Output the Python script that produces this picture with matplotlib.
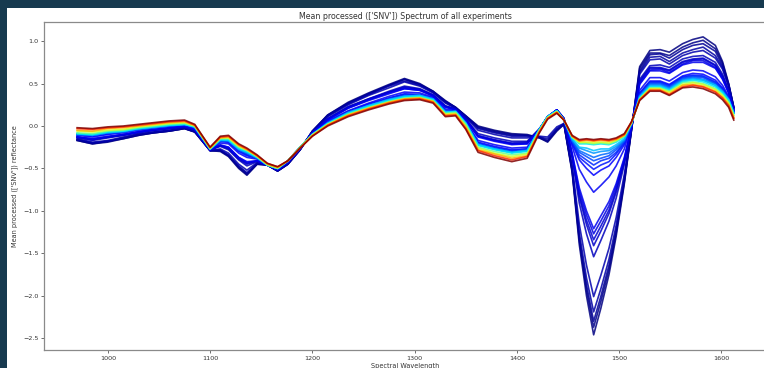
import matplotlib
matplotlib.use("Agg")
import matplotlib.pyplot as plt
from matplotlib.patches import Rectangle

# Sampling wavelengths (nm) shared by every mean spectrum
wavelength_nm = [970, 985, 1000, 1015, 1030, 1045, 1060, 1075, 1085, 1100,
                 1110, 1118, 1128, 1136, 1146, 1156, 1166, 1176, 1188, 1200,
                 1215, 1235, 1255, 1275, 1290, 1305, 1318, 1330, 1340, 1350,
                 1362, 1378, 1395, 1410, 1422, 1430, 1439, 1446, 1454, 1461,
                 1468, 1475, 1482, 1490, 1497, 1505, 1512, 1520, 1530, 1540,
                 1549, 1562, 1572, 1582, 1594, 1601, 1607, 1612]

# Mean SNV-processed reflectance per experiment (label = hours)
snv_h00 = [-0.17, -0.21, -0.19, -0.15, -0.11, -0.08, -0.06, -0.03, -0.07, -0.29,
           -0.30, -0.36, -0.50, -0.58, -0.45, -0.46, -0.53, -0.45, -0.28, -0.06,
           0.13, 0.28, 0.39, 0.49, 0.56, 0.50, 0.41, 0.30, 0.22, 0.12,
           0.00, -0.05, -0.09, -0.10, -0.14, -0.19, -0.06, 0.02, -0.55, -1.40,
           -2.00, -2.46, -2.15, -1.75, -1.30, -0.68, -0.05, 0.70, 0.89, 0.90,
           0.87, 0.97, 1.02, 1.05, 0.95, 0.76, 0.50, 0.22]
snv_h01 = [-0.17, -0.21, -0.18, -0.15, -0.11, -0.08, -0.06, -0.03, -0.07, -0.29,
           -0.29, -0.35, -0.49, -0.57, -0.45, -0.46, -0.53, -0.45, -0.28, -0.06,
           0.13, 0.27, 0.38, 0.48, 0.55, 0.49, 0.41, 0.29, 0.22, 0.12,
           -0.01, -0.06, -0.10, -0.11, -0.14, -0.18, -0.05, 0.02, -0.53, -1.35,
           -1.93, -2.37, -2.07, -1.69, -1.26, -0.66, -0.05, 0.68, 0.86, 0.86,
           0.83, 0.93, 0.98, 1.01, 0.91, 0.74, 0.49, 0.22]
snv_h02 = [-0.16, -0.20, -0.18, -0.14, -0.10, -0.08, -0.06, -0.03, -0.07, -0.29,
           -0.29, -0.35, -0.48, -0.56, -0.44, -0.46, -0.53, -0.45, -0.28, -0.06,
           0.12, 0.27, 0.38, 0.48, 0.55, 0.49, 0.40, 0.29, 0.22, 0.11,
           -0.02, -0.07, -0.11, -0.11, -0.13, -0.17, -0.04, 0.02, -0.52, -1.32,
           -1.87, -2.30, -2.01, -1.64, -1.22, -0.64, -0.04, 0.65, 0.84, 0.85,
           0.80, 0.90, 0.95, 0.97, 0.88, 0.71, 0.49, 0.22]
snv_h03 = [-0.16, -0.20, -0.18, -0.14, -0.10, -0.07, -0.05, -0.02, -0.06, -0.29,
           -0.28, -0.34, -0.47, -0.55, -0.44, -0.46, -0.53, -0.45, -0.28, -0.07,
           0.12, 0.26, 0.37, 0.47, 0.53, 0.48, 0.40, 0.28, 0.21, 0.11,
           -0.03, -0.08, -0.12, -0.12, -0.13, -0.15, -0.03, 0.03, -0.50, -1.26,
           -1.79, -2.19, -1.92, -1.57, -1.17, -0.61, -0.04, 0.63, 0.81, 0.82,
           0.76, 0.86, 0.90, 0.93, 0.83, 0.69, 0.48, 0.21]
snv_h04 = [-0.15, -0.19, -0.17, -0.13, -0.09, -0.07, -0.05, -0.02, -0.06, -0.29,
           -0.27, -0.32, -0.45, -0.52, -0.43, -0.46, -0.52, -0.44, -0.27, -0.07,
           0.11, 0.25, 0.36, 0.45, 0.52, 0.47, 0.39, 0.27, 0.21, 0.10,
           -0.05, -0.10, -0.14, -0.14, -0.12, -0.13, -0.01, 0.03, -0.47, -1.16,
           -1.64, -2.01, -1.76, -1.44, -1.08, -0.57, -0.03, 0.61, 0.78, 0.79,
           0.73, 0.83, 0.87, 0.89, 0.80, 0.67, 0.46, 0.21]
snv_h05 = [-0.14, -0.17, -0.14, -0.11, -0.08, -0.05, -0.03, -0.01, -0.05, -0.28,
           -0.24, -0.28, -0.40, -0.47, -0.42, -0.46, -0.52, -0.43, -0.27, -0.08,
           0.09, 0.23, 0.32, 0.41, 0.47, 0.44, 0.37, 0.24, 0.20, 0.08,
           -0.09, -0.14, -0.18, -0.18, -0.03, 0.10, 0.19, 0.09, -0.38, -0.91,
           -1.27, -1.54, -1.35, -1.12, -0.85, -0.45, -0.02, 0.55, 0.71, 0.72,
           0.69, 0.79, 0.82, 0.83, 0.75, 0.61, 0.42, 0.19]
snv_h06 = [-0.13, -0.16, -0.13, -0.11, -0.07, -0.05, -0.03, -0.01, -0.04, -0.28,
           -0.23, -0.27, -0.39, -0.45, -0.41, -0.46, -0.52, -0.43, -0.27, -0.08,
           0.08, 0.22, 0.32, 0.40, 0.46, 0.43, 0.36, 0.23, 0.20, 0.08,
           -0.11, -0.16, -0.20, -0.19, -0.04, 0.11, 0.19, 0.09, -0.36, -0.84,
           -1.16, -1.41, -1.24, -1.03, -0.78, -0.42, -0.01, 0.53, 0.69, 0.69,
           0.66, 0.76, 0.79, 0.80, 0.72, 0.59, 0.41, 0.19]
snv_h07 = [-0.13, -0.16, -0.13, -0.10, -0.07, -0.05, -0.03, -0.01, -0.04, -0.28,
           -0.23, -0.26, -0.38, -0.44, -0.41, -0.46, -0.52, -0.43, -0.27, -0.08,
           0.08, 0.22, 0.31, 0.40, 0.45, 0.43, 0.36, 0.23, 0.20, 0.08,
           -0.12, -0.17, -0.21, -0.20, -0.04, 0.11, 0.19, 0.09, -0.35, -0.81,
           -1.11, -1.34, -1.18, -0.99, -0.75, -0.41, -0.01, 0.52, 0.68, 0.68,
           0.65, 0.75, 0.78, 0.79, 0.71, 0.58, 0.40, 0.19]
snv_h08 = [-0.13, -0.15, -0.13, -0.10, -0.07, -0.04, -0.02, 0.00, -0.04, -0.28,
           -0.23, -0.25, -0.37, -0.43, -0.41, -0.46, -0.51, -0.43, -0.26, -0.08,
           0.08, 0.21, 0.31, 0.39, 0.44, 0.42, 0.36, 0.23, 0.19, 0.07,
           -0.12, -0.17, -0.21, -0.21, -0.04, 0.11, 0.19, 0.08, -0.33, -0.77,
           -1.05, -1.27, -1.12, -0.94, -0.71, -0.39, -0.01, 0.50, 0.66, 0.67,
           0.63, 0.73, 0.77, 0.77, 0.69, 0.56, 0.39, 0.18]
snv_h09 = [-0.13, -0.15, -0.12, -0.10, -0.07, -0.04, -0.02, 0.00, -0.04, -0.28,
           -0.22, -0.25, -0.37, -0.42, -0.41, -0.46, -0.51, -0.43, -0.26, -0.08,
           0.07, 0.21, 0.30, 0.38, 0.44, 0.42, 0.35, 0.22, 0.19, 0.07,
           -0.13, -0.18, -0.22, -0.21, -0.04, 0.11, 0.19, 0.08, -0.32, -0.73,
           -1.00, -1.21, -1.06, -0.89, -0.68, -0.37, -0.01, 0.49, 0.65, 0.65,
           0.62, 0.72, 0.75, 0.75, 0.68, 0.55, 0.39, 0.18]
snv_h10 = [-0.11, -0.13, -0.10, -0.08, -0.05, -0.03, -0.01, 0.01, -0.03, -0.28,
           -0.20, -0.21, -0.32, -0.37, -0.39, -0.46, -0.51, -0.42, -0.26, -0.09,
           0.06, 0.18, 0.27, 0.35, 0.40, 0.39, 0.34, 0.20, 0.18, 0.05,
           -0.17, -0.22, -0.26, -0.25, -0.04, 0.11, 0.19, 0.08, -0.24, -0.51,
           -0.66, -0.78, -0.70, -0.60, -0.47, -0.27, 0.01, 0.42, 0.57, 0.57,
           0.53, 0.63, 0.66, 0.65, 0.58, 0.48, 0.35, 0.17]
snv_h12 = [-0.10, -0.12, -0.09, -0.07, -0.04, -0.02, 0.00, 0.01, -0.02, -0.27,
           -0.18, -0.19, -0.30, -0.35, -0.38, -0.46, -0.50, -0.42, -0.26, -0.09,
           0.05, 0.17, 0.26, 0.33, 0.38, 0.37, 0.33, 0.18, 0.18, 0.04,
           -0.19, -0.24, -0.28, -0.27, -0.04, 0.11, 0.18, 0.08, -0.21, -0.40,
           -0.50, -0.58, -0.52, -0.47, -0.37, -0.22, 0.02, 0.39, 0.53, 0.53,
           0.49, 0.59, 0.62, 0.61, 0.54, 0.45, 0.33, 0.16]
snv_h14 = [-0.10, -0.11, -0.09, -0.07, -0.04, -0.02, 0.00, 0.01, -0.02, -0.27,
           -0.18, -0.19, -0.29, -0.34, -0.38, -0.46, -0.50, -0.42, -0.25, -0.10,
           0.04, 0.17, 0.25, 0.33, 0.37, 0.37, 0.32, 0.18, 0.18, 0.04,
           -0.20, -0.25, -0.29, -0.27, -0.04, 0.11, 0.18, 0.07, -0.19, -0.37,
           -0.44, -0.51, -0.46, -0.42, -0.33, -0.20, 0.02, 0.38, 0.52, 0.52,
           0.48, 0.58, 0.60, 0.59, 0.52, 0.44, 0.33, 0.16]
snv_h16 = [-0.10, -0.11, -0.08, -0.07, -0.04, -0.02, 0.00, 0.02, -0.02, -0.27,
           -0.18, -0.18, -0.29, -0.33, -0.38, -0.46, -0.50, -0.41, -0.25, -0.10,
           0.04, 0.16, 0.25, 0.32, 0.36, 0.37, 0.32, 0.18, 0.18, 0.04,
           -0.21, -0.26, -0.30, -0.28, -0.04, 0.11, 0.18, 0.07, -0.18, -0.34,
           -0.40, -0.46, -0.41, -0.38, -0.31, -0.19, 0.02, 0.37, 0.51, 0.51,
           0.47, 0.57, 0.59, 0.58, 0.51, 0.43, 0.32, 0.16]
snv_h19 = [-0.10, -0.11, -0.08, -0.07, -0.04, -0.02, 0.00, 0.02, -0.02, -0.27,
           -0.17, -0.18, -0.28, -0.32, -0.38, -0.46, -0.50, -0.41, -0.25, -0.10,
           0.04, 0.16, 0.24, 0.32, 0.36, 0.36, 0.32, 0.17, 0.17, 0.04,
           -0.21, -0.26, -0.30, -0.28, -0.04, 0.11, 0.18, 0.07, -0.18, -0.31,
           -0.36, -0.41, -0.38, -0.35, -0.28, -0.18, 0.02, 0.36, 0.50, 0.50,
           0.46, 0.56, 0.58, 0.57, 0.50, 0.42, 0.32, 0.16]
snv_h22 = [-0.10, -0.11, -0.08, -0.07, -0.04, -0.02, 0.00, 0.02, -0.01, -0.27,
           -0.17, -0.17, -0.28, -0.32, -0.38, -0.46, -0.50, -0.41, -0.25, -0.10,
           0.04, 0.16, 0.24, 0.31, 0.35, 0.36, 0.32, 0.17, 0.17, 0.04,
           -0.22, -0.27, -0.31, -0.29, -0.04, 0.11, 0.18, 0.07, -0.17, -0.29,
           -0.33, -0.37, -0.34, -0.32, -0.26, -0.17, 0.03, 0.35, 0.49, 0.49,
           0.45, 0.55, 0.57, 0.55, 0.49, 0.41, 0.31, 0.15]
snv_h26 = [-0.09, -0.11, -0.08, -0.06, -0.03, -0.01, 0.01, 0.02, -0.01, -0.27,
           -0.17, -0.17, -0.27, -0.31, -0.37, -0.46, -0.50, -0.41, -0.25, -0.10,
           0.03, 0.16, 0.24, 0.31, 0.35, 0.36, 0.32, 0.17, 0.17, 0.03,
           -0.22, -0.27, -0.31, -0.29, -0.04, 0.11, 0.18, 0.07, -0.16, -0.26,
           -0.29, -0.32, -0.30, -0.29, -0.24, -0.16, 0.03, 0.35, 0.48, 0.48,
           0.44, 0.54, 0.56, 0.54, 0.48, 0.41, 0.31, 0.15]
snv_h30 = [-0.09, -0.10, -0.07, -0.06, -0.03, -0.01, 0.01, 0.02, -0.01, -0.27,
           -0.16, -0.17, -0.27, -0.31, -0.37, -0.46, -0.50, -0.41, -0.25, -0.10,
           0.03, 0.15, 0.24, 0.31, 0.35, 0.36, 0.31, 0.16, 0.17, 0.03,
           -0.22, -0.27, -0.31, -0.29, -0.04, 0.11, 0.18, 0.07, -0.15, -0.25,
           -0.26, -0.29, -0.27, -0.27, -0.22, -0.15, 0.03, 0.34, 0.47, 0.47,
           0.43, 0.53, 0.55, 0.54, 0.48, 0.40, 0.31, 0.15]
snv_h34 = [-0.09, -0.10, -0.07, -0.06, -0.03, -0.01, 0.01, 0.02, -0.01, -0.27,
           -0.16, -0.16, -0.26, -0.30, -0.37, -0.46, -0.50, -0.41, -0.25, -0.10,
           0.03, 0.15, 0.23, 0.30, 0.34, 0.35, 0.31, 0.16, 0.17, 0.03,
           -0.23, -0.28, -0.32, -0.30, -0.04, 0.11, 0.18, 0.07, -0.14, -0.21,
           -0.21, -0.22, -0.21, -0.22, -0.19, -0.13, 0.03, 0.33, 0.46, 0.46,
           0.42, 0.52, 0.54, 0.52, 0.46, 0.39, 0.30, 0.15]
snv_h46 = [-0.08, -0.09, -0.06, -0.05, -0.02, 0.00, 0.02, 0.03, 0.00, -0.27,
           -0.15, -0.15, -0.25, -0.29, -0.36, -0.46, -0.50, -0.41, -0.25, -0.10,
           0.02, 0.14, 0.22, 0.29, 0.33, 0.34, 0.30, 0.15, 0.16, 0.02,
           -0.25, -0.30, -0.34, -0.32, -0.05, 0.10, 0.17, 0.07, -0.13, -0.20,
           -0.20, -0.21, -0.20, -0.21, -0.18, -0.12, 0.03, 0.32, 0.45, 0.45,
           0.41, 0.51, 0.52, 0.50, 0.44, 0.37, 0.28, 0.13]
snv_h58 = [-0.06, -0.07, -0.05, -0.04, -0.01, 0.01, 0.03, 0.04, 0.00, -0.26,
           -0.14, -0.14, -0.24, -0.28, -0.36, -0.45, -0.49, -0.41, -0.25, -0.11,
           0.02, 0.13, 0.21, 0.28, 0.32, 0.33, 0.29, 0.14, 0.15, 0.00,
           -0.26, -0.32, -0.36, -0.33, -0.06, 0.10, 0.17, 0.07, -0.13, -0.19,
           -0.19, -0.20, -0.19, -0.20, -0.17, -0.11, 0.04, 0.32, 0.44, 0.44,
           0.40, 0.49, 0.51, 0.49, 0.43, 0.36, 0.27, 0.12]
snv_h70 = [-0.05, -0.06, -0.03, -0.02, 0.00, 0.02, 0.04, 0.05, 0.01, -0.26,
           -0.14, -0.13, -0.23, -0.28, -0.35, -0.45, -0.49, -0.41, -0.26, -0.11,
           0.01, 0.13, 0.21, 0.28, 0.32, 0.33, 0.29, 0.13, 0.14, -0.01,
           -0.28, -0.33, -0.38, -0.35, -0.06, 0.09, 0.16, 0.07, -0.12, -0.18,
           -0.17, -0.18, -0.17, -0.18, -0.16, -0.11, 0.04, 0.31, 0.43, 0.43,
           0.38, 0.48, 0.49, 0.47, 0.41, 0.34, 0.25, 0.10]
snv_h83 = [-0.03, -0.04, -0.02, -0.01, 0.01, 0.03, 0.05, 0.06, 0.01, -0.25,
           -0.13, -0.12, -0.22, -0.27, -0.35, -0.44, -0.48, -0.41, -0.26, -0.12,
           0.01, 0.12, 0.20, 0.27, 0.31, 0.32, 0.28, 0.12, 0.13, -0.03,
           -0.29, -0.35, -0.40, -0.36, -0.07, 0.09, 0.16, 0.07, -0.12, -0.17,
           -0.16, -0.17, -0.16, -0.17, -0.15, -0.10, 0.05, 0.31, 0.42, 0.42,
           0.37, 0.46, 0.48, 0.46, 0.40, 0.33, 0.24, 0.09]
snv_h96 = [-0.02, -0.03, -0.01, 0.00, 0.02, 0.04, 0.06, 0.07, 0.02, -0.25,
           -0.12, -0.11, -0.21, -0.26, -0.34, -0.44, -0.48, -0.41, -0.26, -0.12,
           0.00, 0.11, 0.19, 0.26, 0.30, 0.31, 0.27, 0.11, 0.12, -0.04,
           -0.31, -0.37, -0.42, -0.38, -0.08, 0.08, 0.15, 0.07, -0.11, -0.16,
           -0.15, -0.16, -0.15, -0.16, -0.14, -0.09, 0.05, 0.30, 0.41, 0.41,
           0.36, 0.45, 0.46, 0.44, 0.38, 0.31, 0.22, 0.07]

hours = [0, 1, 2, 3, 4, 5, 6, 7, 8, 9, 10, 12, 14, 16, 19, 22, 26, 30,
         34, 46, 58, 70, 83, 96]
spectra = [snv_h00, snv_h01, snv_h02, snv_h03, snv_h04, snv_h05, snv_h06,
           snv_h07, snv_h08, snv_h09, snv_h10, snv_h12, snv_h14, snv_h16,
           snv_h19, snv_h22, snv_h26, snv_h30, snv_h34, snv_h46, snv_h58,
           snv_h70, snv_h83, snv_h96]

W, H = 764, 368
fig = plt.figure(figsize=(W / 100, H / 100), dpi=100, facecolor="#173a4f")
# white canvas panel behind the plot
fig.patches.append(Rectangle((7 / W, 0), 1, 1 - 8 / H, transform=fig.transFigure,
                             facecolor="white", edgecolor="none", zorder=-10))

ax = fig.add_axes([44.3 / W, 18.3 / H, 722.3 / W, 327.7 / H])
ax.set_zorder(1)

cmap = plt.get_cmap("jet")
t_max = max(hours)
for h, spec in zip(hours, spectra):
    ax.plot(wavelength_nm, spec, color=cmap(h / t_max), lw=1.2, alpha=0.85)

text_color = "#333333"
ax.set_title("Mean processed (['SNV']) Spectrum of all experiments",
             fontsize=5.7, color=text_color, pad=2.5)
ax.set_xlabel("Spectral Wavelength", fontsize=4.7, color=text_color, labelpad=2)
ax.set_ylabel("Mean processed (['SNV']) reflectance", fontsize=4.7,
              color=text_color, labelpad=3.5)
ax.tick_params(labelsize=4.6, length=2.2, width=0.5, pad=2,
               colors=text_color)
for side in ax.spines.values():
    side.set_color("#8a8a8a")
    side.set_linewidth(0.9)

fig.savefig("out.png", dpi=100, facecolor=fig.get_facecolor())
